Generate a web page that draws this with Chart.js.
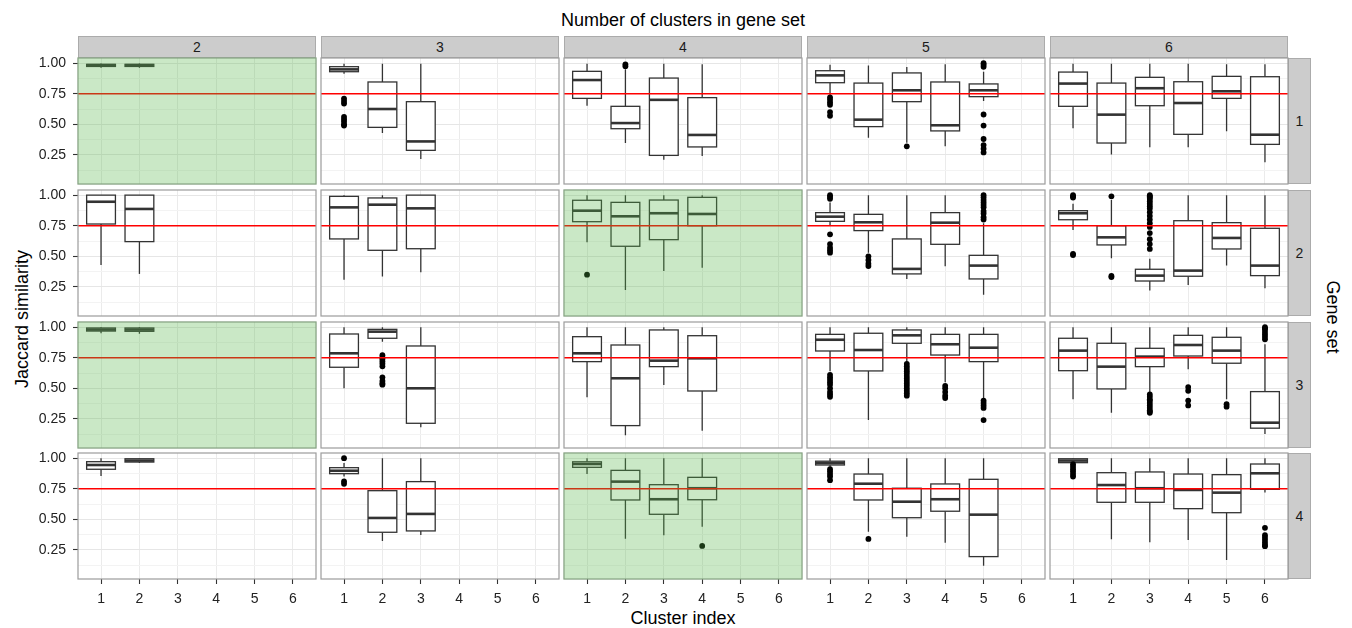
<!DOCTYPE html>
<html>
<head>
<meta charset="utf-8">
<script src="https://cdn.jsdelivr.net/npm/chart.js@4.4.0/dist/chart.umd.min.js"></script>
<style>
  body { margin: 0; background: #fff; font-family: 'Liberation Sans', Arial, Helvetica, sans-serif; }
  #wrap { position: relative; width: 1352px; height: 628px; overflow: hidden; }
  #wrap canvas { position: absolute; }
  .strip { position: absolute; background: #cccccc; border: 1px solid #ababab; box-sizing: border-box;
           color: #1a1a1a; font-size: 14px; display: flex; align-items: center; justify-content: center; }
  .lab { position: absolute; font-size: 18px; color: #000; white-space: nowrap; line-height: 20px; }
</style>
</head>
<body>
<div id="wrap">
  <div class="lab" style="left:78px;width:1210px;top:10px;text-align:center;">Number of clusters in gene set</div>
  <div class="lab" style="left:78px;width:1210px;top:608px;text-align:center;">Cluster index</div>
  <div class="lab" style="left:22px;top:319px;transform:translate(-50%,-50%) rotate(-90deg);">Jaccard similarity</div>
  <div class="lab" style="left:1333px;top:317px;transform:translate(-50%,-50%) rotate(90deg);">Gene set</div>
</div>
<script>
// facets
const geneSets = ['1', '2', '3', '4'];
const clusterCounts = ['2', '3', '4', '5', '6'];
const clusterIndex = [1, 2, 3, 4, 5, 6];
const yTicks = [0.25, 0.5, 0.75, 1.0];
const threshold = 0.75;
// panels shaded green: gene set - number of clusters
const matchedPanels = ['1-2', '2-4', '3-2', '4-4'];

// each box: [lower whisker, q1, median, q3, upper whisker, [outliers]]
// gene set 1
const s1k2 = [[0.962, 0.973, 0.983, 0.99, 0.998, []], [0.962, 0.973, 0.983, 0.99, 0.998, []]];
const s1k3 = [[0.914, 0.93, 0.949, 0.971, 0.995, [0.71, 0.69, 0.67, 0.56, 0.54, 0.52, 0.50, 0.49]],
              [0.429, 0.475, 0.625, 0.846, 0.995, []],
              [0.217, 0.287, 0.36, 0.685, 0.995, []]];
const s1k4 = [[0.652, 0.712, 0.862, 0.933, 0.995, []],
              [0.347, 0.464, 0.51, 0.647, 0.95, [0.99, 0.975]],
              [0.21, 0.246, 0.70, 0.878, 0.995, []],
              [0.24, 0.315, 0.413, 0.718, 0.99, []]];
const s1k5 = [[0.74, 0.84, 0.90, 0.938, 0.987, [0.72, 0.70, 0.68, 0.66, 0.60, 0.57]],
              [0.39, 0.481, 0.538, 0.837, 0.98, []],
              [0.35, 0.685, 0.778, 0.92, 0.968, [0.32]],
              [0.32, 0.446, 0.492, 0.846, 0.99, []],
              [0.69, 0.726, 0.778, 0.83, 0.93, [1.0, 0.985, 0.97, 0.58, 0.49, 0.38, 0.33, 0.30, 0.27]]];
const s1k6 = [[0.467, 0.647, 0.833, 0.927, 0.995, []],
              [0.254, 0.347, 0.579, 0.837, 0.995, []],
              [0.312, 0.652, 0.795, 0.884, 0.995, []],
              [0.312, 0.418, 0.674, 0.848, 0.995, []],
              [0.443, 0.712, 0.77, 0.892, 0.99, []],
              [0.19, 0.336, 0.415, 0.889, 0.99, []]];
// gene set 2
const s2k2 = [[0.429, 0.764, 0.946, 1.0, 1.0, []], [0.356, 0.62, 0.887, 1.0, 1.0, []]];
const s2k3 = [[0.309, 0.642, 0.90, 0.99, 1.0, []],
              [0.334, 0.549, 0.922, 0.977, 1.0, []],
              [0.37, 0.562, 0.892, 1.0, 1.0, []]];
const s2k4 = [[0.615, 0.783, 0.873, 0.958, 1.0, [0.35]],
              [0.225, 0.582, 0.827, 0.941, 1.0, []],
              [0.38, 0.636, 0.852, 0.96, 1.0, []],
              [0.407, 0.75, 0.846, 0.982, 1.0, []]];
const s2k5 = [[0.75, 0.786, 0.824, 0.857, 0.94, [1.0, 0.985, 0.97, 0.68, 0.60, 0.57, 0.55, 0.53]],
              [0.53, 0.71, 0.778, 0.843, 1.0, [0.50, 0.47, 0.44, 0.42]],
              [0.315, 0.356, 0.397, 0.642, 1.0, []],
              [0.418, 0.598, 0.775, 0.857, 1.0, []],
              [0.185, 0.315, 0.424, 0.508, 0.77, [1.0, 0.98, 0.96, 0.94, 0.92, 0.90, 0.87, 0.85, 0.82, 0.80]]];
const s2k6 = [[0.715, 0.799, 0.852, 0.873, 0.93, [1.0, 0.99, 0.98, 0.52, 0.51]],
              [0.484, 0.593, 0.655, 0.75, 0.96, [0.99, 0.34, 0.33]],
              [0.22, 0.298, 0.342, 0.394, 0.48, [1.0, 0.99, 0.98, 0.97, 0.95, 0.93, 0.91, 0.89, 0.86, 0.83, 0.80, 0.77, 0.74, 0.69, 0.64, 0.60, 0.56]],
              [0.266, 0.337, 0.383, 0.791, 1.0, []],
              [0.424, 0.56, 0.65, 0.775, 1.0, []],
              [0.239, 0.342, 0.424, 0.729, 1.0, []]];
// gene set 3
const s3k2 = [[0.95, 0.968, 0.98, 0.993, 1.0, []], [0.945, 0.966, 0.98, 0.993, 1.0, []]];
const s3k3 = [[0.50, 0.672, 0.786, 0.944, 1.0, []],
              [0.88, 0.909, 0.963, 0.982, 1.0, [0.77, 0.75, 0.74, 0.72, 0.70, 0.68, 0.59, 0.56, 0.54, 0.53]],
              [0.182, 0.214, 0.50, 0.846, 1.0, []]];
const s3k4 = [[0.427, 0.718, 0.786, 0.922, 1.0, []],
              [0.116, 0.195, 0.582, 0.854, 1.0, []],
              [0.527, 0.677, 0.726, 0.977, 1.0, []],
              [0.154, 0.478, 0.745, 0.93, 1.0, []]];
const s3k5 = [[0.64, 0.805, 0.897, 0.941, 1.0, [0.61, 0.59, 0.57, 0.55, 0.53, 0.50, 0.47, 0.45, 0.43]],
              [0.241, 0.642, 0.813, 0.95, 1.0, []],
              [0.72, 0.868, 0.933, 0.977, 1.0, [0.70, 0.68, 0.66, 0.64, 0.62, 0.60, 0.58, 0.56, 0.54, 0.52, 0.50, 0.48, 0.46, 0.44]],
              [0.55, 0.772, 0.86, 0.941, 1.0, [0.52, 0.50, 0.47, 0.44, 0.42]],
              [0.42, 0.718, 0.832, 0.941, 1.0, [0.40, 0.38, 0.36, 0.34, 0.24]]];
const s3k6 = [[0.41, 0.644, 0.808, 0.909, 1.0, []],
              [0.30, 0.495, 0.677, 0.868, 1.0, []],
              [0.46, 0.677, 0.759, 0.827, 1.0, [0.45, 0.43, 0.41, 0.40, 0.38, 0.36, 0.34, 0.32, 0.31, 0.30]],
              [0.655, 0.764, 0.854, 0.933, 1.0, [0.51, 0.48, 0.40, 0.36]],
              [0.41, 0.705, 0.808, 0.917, 1.0, [0.37, 0.35]],
              [0.127, 0.174, 0.219, 0.473, 0.86, [1.0, 0.99, 0.98, 0.96, 0.94, 0.92, 0.90]]];
// gene set 4
const s4k2 = [[0.854, 0.909, 0.944, 0.971, 1.0, []], [0.96, 0.968, 0.98, 0.995, 1.0, []]];
const s4k3 = [[0.85, 0.873, 0.897, 0.922, 0.96, [1.0, 0.81, 0.79]],
              [0.323, 0.394, 0.511, 0.734, 1.0, []],
              [0.372, 0.405, 0.544, 0.808, 1.0, []]];
const s4k4 = [[0.87, 0.925, 0.952, 0.97, 1.0, []],
              [0.342, 0.658, 0.808, 0.90, 1.0, []],
              [0.37, 0.541, 0.664, 0.783, 1.0, []],
              [0.44, 0.66, 0.754, 0.843, 1.0, [0.282]]];
const s4k5 = [[0.93, 0.944, 0.96, 0.975, 1.0, [0.91, 0.89, 0.87, 0.85, 0.82]],
              [0.399, 0.658, 0.791, 0.87, 1.0, [0.34]],
              [0.358, 0.513, 0.644, 0.754, 1.0, []],
              [0.309, 0.566, 0.664, 0.789, 1.0, []],
              [0.121, 0.195, 0.538, 0.827, 1.0, []]];
const s4k6 = [[0.96, 0.963, 0.98, 0.995, 1.0, [0.95, 0.93, 0.91, 0.89, 0.87, 0.85]],
              [0.337, 0.639, 0.78, 0.881, 1.0, []],
              [0.312, 0.639, 0.754, 0.887, 1.0, []],
              [0.331, 0.587, 0.74, 0.87, 1.0, []],
              [0.168, 0.554, 0.718, 0.865, 1.0, []],
              [0.72, 0.745, 0.876, 0.952, 1.0, [0.43, 0.37, 0.35, 0.33, 0.31, 0.29, 0.28]]];

const panels = [
  [s1k2, s1k3, s1k4, s1k5, s1k6],
  [s2k2, s2k3, s2k4, s2k5, s2k6],
  [s3k2, s3k3, s3k4, s3k5, s3k6],
  [s4k2, s4k3, s4k4, s4k5, s4k6]
];

// layout of the facet grid (pixels)
const colLeft = [78, 321, 564, 807, 1050];
const rowTop = [58, 190, 322, 453];
const panelW = 238, panelH = 126;
const axisW = 44, axisH = 30;

Chart.defaults.font.family = "'Liberation Sans', Arial, Helvetica, sans-serif";
Chart.defaults.animation = false;

const wrap = document.getElementById('wrap');

// top strips
clusterCounts.forEach((k, c) => {
  const d = document.createElement('div');
  d.className = 'strip';
  d.style.cssText = `left:${colLeft[c]}px;top:36px;width:${panelW}px;height:22px;`;
  d.textContent = k;
  wrap.appendChild(d);
});
// right strips
geneSets.forEach((g, r) => {
  const d = document.createElement('div');
  d.className = 'strip';
  d.style.cssText = `left:${colLeft[4] + panelW}px;top:${rowTop[r]}px;width:23px;height:${panelH}px;`;
  d.textContent = g;
  wrap.appendChild(d);
});

function isMajor(v) {
  return yTicks.some(t => Math.abs(t - v) < 1e-6);
}

panels.forEach((row, r) => row.forEach((stats, c) => {
  const isLeft = c === 0;
  const isBottom = r === panels.length - 1;
  const shaded = matchedPanels.includes(geneSets[r] + '-' + clusterCounts[c]);

  const cv = document.createElement('canvas');
  cv.width = axisW + panelW + 1;
  cv.height = panelH + axisH + 1;
  cv.style.left = (colLeft[c] - axisW) + 'px';
  cv.style.top = (rowTop[r] - 1) + 'px';
  cv.style.width = cv.width + 'px';
  cv.style.height = cv.height + 'px';
  wrap.appendChild(cv);

  const outliers = stats.flatMap((b, i) => b[5].map(v => ({ x: clusterIndex[i], y: v })));

  // boxes and whiskers, drawn through the chart scales
  const boxPlugin = {
    id: 'boxes',
    beforeDatasetsDraw(chart) {
      const { ctx, scales: { x, y } } = chart;
      ctx.save();
      ctx.strokeStyle = '#333';
      stats.forEach((b, i) => {
        const [lo, q1, med, q3, hi] = b;
        const k = clusterIndex[i];
        const cx = x.getPixelForValue(k);
        const x0 = x.getPixelForValue(k - 0.375);
        const x1 = x.getPixelForValue(k + 0.375);
        const yT = y.getPixelForValue(q3), yB = y.getPixelForValue(q1);
        ctx.lineWidth = 1.3;
        ctx.beginPath();
        ctx.moveTo(cx, y.getPixelForValue(hi)); ctx.lineTo(cx, yT);
        ctx.moveTo(cx, yB); ctx.lineTo(cx, y.getPixelForValue(lo));
        ctx.stroke();
        ctx.fillStyle = '#fff';
        ctx.fillRect(x0, yT, x1 - x0, yB - yT);
        ctx.strokeRect(x0, yT, x1 - x0, yB - yT);
        ctx.lineWidth = 2.6;
        const yM = y.getPixelForValue(med);
        ctx.beginPath();
        ctx.moveTo(x0, yM); ctx.lineTo(x1, yM);
        ctx.stroke();
      });
      ctx.restore();
    },
    afterDraw(chart) {
      const { ctx, chartArea: a } = chart;
      ctx.save();
      ctx.strokeStyle = '#9c9c9c';
      ctx.lineWidth = 1.2;
      ctx.strokeRect(a.left, a.top, a.right - a.left, a.bottom - a.top);
      if (shaded) {
        ctx.fillStyle = 'rgba(83, 181, 70, 0.31)';
        ctx.fillRect(a.left - 0.6, a.top - 0.6, a.right - a.left + 1.2, a.bottom - a.top + 1.2);
      }
      ctx.restore();
    }
  };

  new Chart(cv, {
    type: 'scatter',
    data: {
      datasets: [
        {
          label: 'threshold',
          data: [{ x: 0.4, y: threshold }, { x: 6.6, y: threshold }],
          showLine: true,
          borderColor: '#ff0000',
          borderWidth: 1.4,
          pointRadius: 0,
          order: 0
        },
        {
          label: 'outliers',
          data: outliers,
          pointRadius: 2.9,
          pointBackgroundColor: '#000',
          pointBorderWidth: 0,
          order: 1
        }
      ]
    },
    options: {
      responsive: false,
      devicePixelRatio: 1,
      layout: { autoPadding: false, padding: { top: 1, right: 1, left: 0, bottom: 0 } },
      plugins: { legend: { display: false }, tooltip: { enabled: false } },
      scales: {
        x: {
          type: 'linear',
          min: 0.4,
          max: 6.6,
          afterBuildTicks: s => { s.ticks = clusterIndex.map(v => ({ value: v })); },
          afterFit: s => { s.height = axisH; s.paddingLeft = 0; s.paddingRight = 0; s.paddingTop = 0; s.paddingBottom = 0; },
          border: { display: false },
          grid: { color: '#ebebeb', lineWidth: 1, drawTicks: isBottom, tickLength: 5, tickColor: '#333', tickWidth: 1.1 },
          ticks: { display: isBottom, padding: 7, color: '#222', font: { size: 14 },
                   autoSkip: false, maxRotation: 0, callback: v => String(v) }
        },
        y: {
          type: 'linear',
          min: 0.012,
          max: 1.042,
          afterBuildTicks: s => {
            s.ticks = [0.125, 0.25, 0.375, 0.5, 0.625, 0.75, 0.875, 1.0].map(v => ({ value: v }));
          },
          afterFit: s => { s.width = axisW; s.paddingTop = 0; s.paddingBottom = 0; s.paddingLeft = 0; s.paddingRight = 0; },
          border: { display: false },
          grid: {
            color: ctx => isMajor(ctx.tick.value) ? '#e6e6e6' : '#f3f3f3',
            lineWidth: 1,
            drawTicks: isLeft,
            tickLength: 5,
            tickWidth: 1.1,
            tickColor: ctx => isMajor(ctx.tick.value) ? '#333' : 'rgba(0,0,0,0)'
          },
          ticks: { display: isLeft, padding: 7, color: '#222', font: { size: 14 },
                   autoSkip: false, callback: v => isMajor(v) ? v.toFixed(2) : '' }
        }
      }
    },
    plugins: [boxPlugin]
  });
}));
</script>
</body>
</html>
